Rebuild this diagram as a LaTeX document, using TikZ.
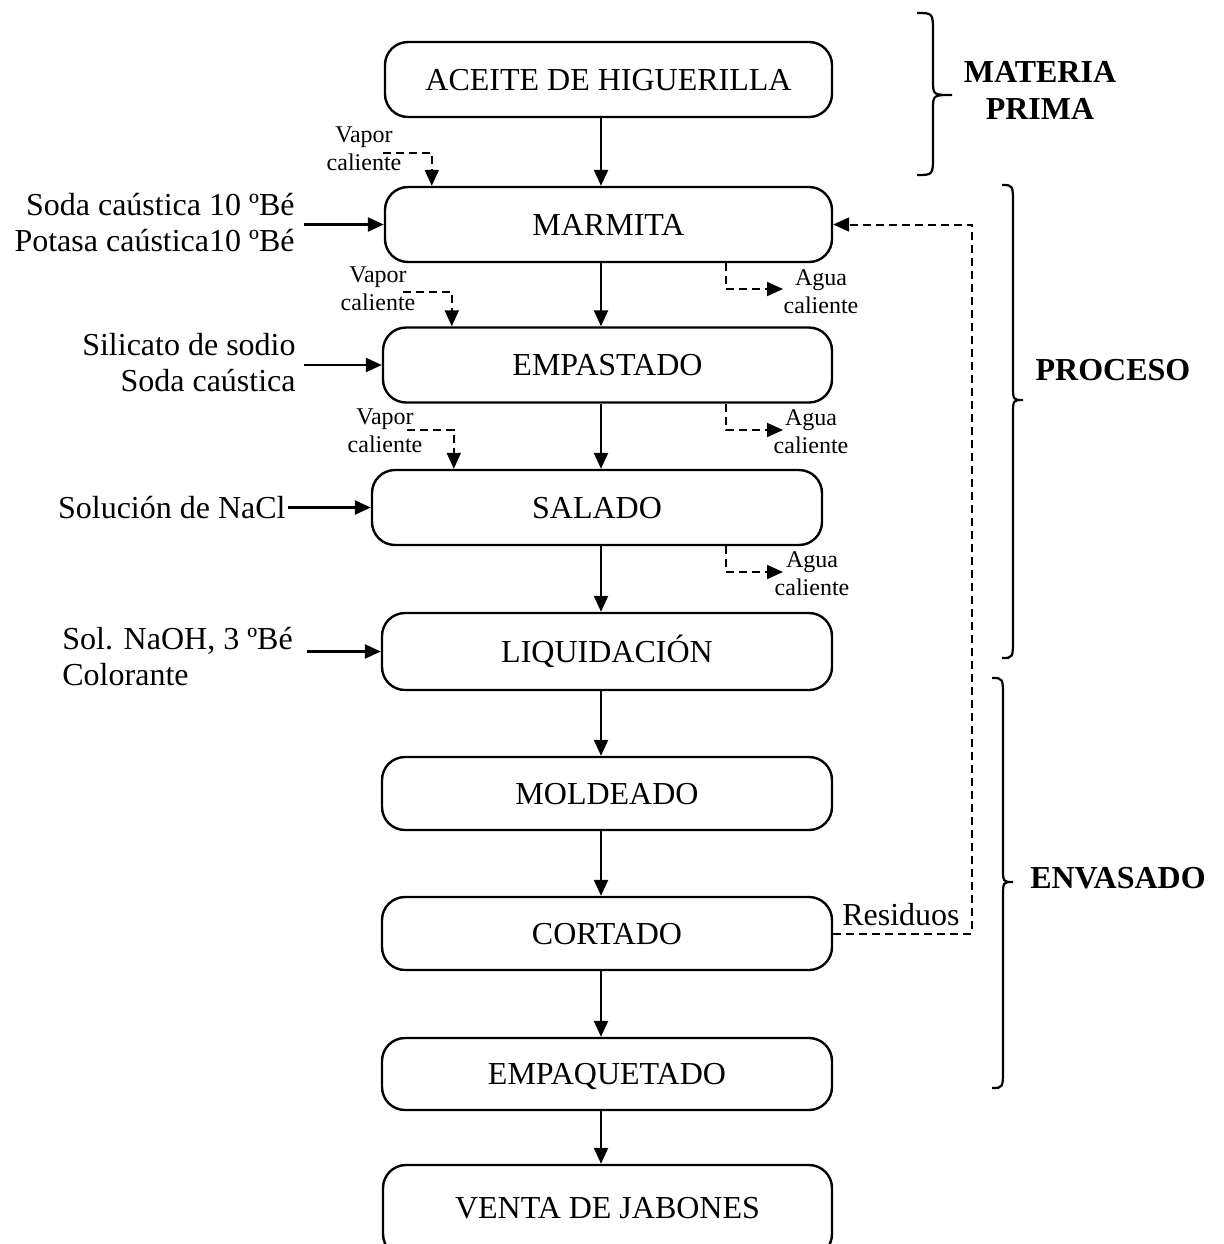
\documentclass[tikz,border=0pt]{standalone}
\usepackage{fontspec}
\setmainfont{Liberation Serif}
\usetikzlibrary{arrows.meta,calc}
\begin{document}
\begin{tikzpicture}[x=0.5pt,y=-0.5pt,
  stage/.style={draw, line width=1.2pt, rounded corners=11.5pt,
    minimum width=223.5pt, minimum height=37.5pt, inner sep=0pt,
    font=\fontsize{16}{19}\selectfont, text height=10.6pt, text depth=0pt},
  flow/.style={line width=1.2pt, -{Triangle[length=8pt,width=7pt]}},
  aux/.style={line width=1pt, dash pattern=on 4pt off 2.5pt,
    -{Triangle[length=8pt,width=7pt]}},
  feed/.style={font=\fontsize{16}{18}\selectfont, inner sep=0pt},
  tiny/.style={font=\fontsize{12}{14}\selectfont, inner sep=0pt, align=center},
  phase/.style={font=\fontsize{16}{18.5}\selectfont\bfseries, align=center, inner sep=0pt},
  brace/.style={line width=1.1pt}
]
\useasboundingbox (0,0) rectangle (1223,1244);
\clip (0,0) rectangle (1223,1244);

% process stages
\node[stage] (aceite) at (608.5,79.5) {ACEITE DE HIGUERILLA};
\node[stage] (marmita) at (608.5,224.5) {MARMITA};
\node[stage, minimum width=224.5pt] (empastado) at (607.5,365) {EMPASTADO};
\node[stage, minimum width=225pt] (salado) at (597,507.5) {SALADO};
\node[stage, minimum width=225pt, minimum height=38.5pt] (liquidacion) at (607,651.5) {LIQUIDACIÓN};
\node[stage, minimum width=225pt, minimum height=36.5pt] (moldeado) at (607,793.5) {MOLDEADO};
\node[stage, minimum width=225pt, minimum height=36.5pt] (cortado) at (607,933.5) {CORTADO};
\node[stage, minimum width=225pt, minimum height=36pt] (empaquetado) at (607,1074) {EMPAQUETADO};
\node[stage, minimum width=224.5pt, minimum height=46pt, text depth=3pt] (venta) at (607.5,1211) {VENTA DE JABONES};

% main line
\coordinate (axis) at (601,0);
\draw[flow] (aceite.south -| axis) -- (marmita.north -| axis);
\draw[flow] (marmita.south -| axis) -- (empastado.north -| axis);
\draw[flow] (empastado.south -| axis) -- (salado.north -| axis);
\draw[flow] (salado.south -| axis) -- (liquidacion.north -| axis);
\draw[flow] (liquidacion.south -| axis) -- (moldeado.north -| axis);
\draw[flow] (moldeado.south -| axis) -- (cortado.north -| axis);
\draw[flow] (cortado.south -| axis) -- (empaquetado.north -| axis);
\draw[flow] (empaquetado.south -| axis) -- (venta.north -| axis);

% feeds from the left
\node[feed, anchor=east, align=right] (soda) at (295,223) {Soda caústica 10 ºBé\\Potasa caústica10 ºBé};
\coordinate (sodaX) at ($(soda.east)+(9,0)$);
\draw[flow] (sodaX |- marmita.west) -- (marmita.west);

\node[feed, anchor=east, align=right] (silicato) at (296,362.5) {Silicato de sodio\\Soda caústica};
\coordinate (silX) at ($(silicato.east)+(8,0)$);
\draw[flow] (silX |- empastado.west) -- (empastado.west);

\node[feed, anchor=east] (nacl) at (286,507.5) {Solución de NaCl};
\coordinate (naclX) at ($(nacl.east)+(2,0)$);
\draw[flow] (naclX |- salado.west) -- (salado.west);

\node[feed, anchor=west, align=left] (naoh) at (62,657) {Sol. NaOH, 3 ºBé\\Colorante};
\coordinate (naohX) at ($(naoh.east)+(14,0)$);
\draw[flow] (naohX |- liquidacion.west) -- (liquidacion.west);

% steam inlets (labels placed by the baseline of their last line)
\node[tiny, anchor=base] (vap1) at (364,170) {Vapor\\caliente};
\coordinate (v1) at (383,153);
\draw[aux] (v1) -| ($(marmita.north west)+(48,0)$);

\node[tiny, anchor=base] (vap2) at (378,310) {Vapor\\caliente};
\coordinate (v2) at (403,292);
\draw[aux] (v2) -| ($(empastado.north west)+(70,0)$);

\node[tiny, anchor=base] (vap3) at (385,452) {Vapor\\caliente};
\coordinate (v3) at (407,430);
\draw[aux] (v3) -| ($(salado.north west)+(83,0)$);

% hot water outlets
\coordinate (a1) at (783,289);
\draw[aux] ($(marmita.south west)+(342,0)$) |- (a1);
\node[tiny, anchor=base] (agua1) at (821,313) {Agua\\caliente};

\coordinate (a2) at (783,430);
\draw[aux] ($(empastado.south west)+(344,0)$) |- (a2);
\node[tiny, anchor=base] (agua2) at (811,453) {Agua\\caliente};

\coordinate (a3) at (783,572);
\draw[aux] ($(salado.south west)+(355,0)$) |- (a3);
\node[tiny, anchor=base] (agua3) at (812,595) {Agua\\caliente};

% recycled trimmings
\coordinate (ret) at (972,0);
\draw[aux] (cortado.east) -| (ret |- marmita.east) -- (marmita.east);
\node[feed, anchor=base] (res) at (901,925) {Residuos};

% phase braces
\draw[brace] (917,13) .. controls (933,13) .. (933,33) -- (933,80)
  .. controls (933,95) .. (952,95) .. controls (933,95) .. (933,110)
  -- (933,155) .. controls (933,175) .. (917,175);
\node[phase] (mp) at (1040,90.5) {MATERIA\\PRIMA};

\draw[brace] (1002,185) .. controls (1013,185) .. (1013,205) -- (1013,385)
  .. controls (1013,400) .. (1023,400) .. controls (1013,400) .. (1013,415)
  -- (1013,638) .. controls (1013,658) .. (1002,658);
\node[phase] (proc) at (1113,370) {PROCESO};

\draw[brace] (992,678) .. controls (1003,678) .. (1003,698) -- (1003,867)
  .. controls (1003,882) .. (1013,882) .. controls (1003,882) .. (1003,897)
  -- (1003,1068) .. controls (1003,1088) .. (992,1088);
\node[phase] (env) at (1118,878) {ENVASADO};
\end{tikzpicture}
\end{document}
